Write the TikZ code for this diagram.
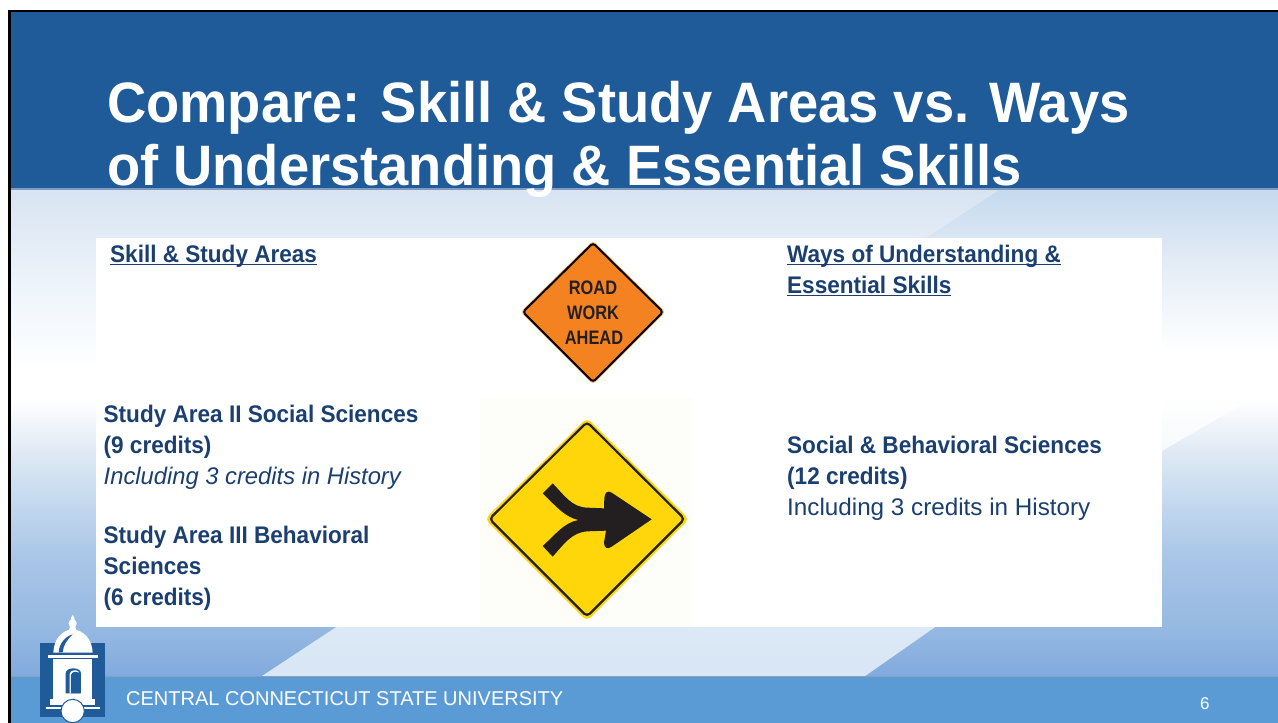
\documentclass[tikz,border=0pt]{standalone}
\usepackage{fontspec}
\setmainfont{Liberation Sans}
\newcommand\myul[1]{\setbox0\hbox{#1}\rlap{\rule[-3.2pt]{\wd0}{1.6pt}}\box0 }
\definecolor{hdr}{HTML}{1F5A99}
\definecolor{hdrline}{HTML}{7F9CC0}
\definecolor{ftr}{HTML}{5B9BD5}
\definecolor{ftrline}{HTML}{8AA0B8}
\definecolor{ink}{HTML}{1A3F70}
\definecolor{logoblue}{HTML}{1F5A99}
\definecolor{orangesign}{HTML}{F58220}
\definecolor{yellowsign}{HTML}{FFD60A}
\definecolor{offw}{HTML}{FDFDFA}
\definecolor{signink}{HTML}{231F20}
\definecolor{aA}{HTML}{82AADD}\definecolor{aB}{HTML}{95B9E2}\definecolor{aC}{HTML}{A8C5E7}
\definecolor{aD}{HTML}{C5D9EE}\definecolor{aE}{HTML}{E0EAF5}\definecolor{aF}{HTML}{F0F6FC}
\definecolor{aG}{HTML}{E3ECF6}\definecolor{aH}{HTML}{D8E4F2}
\pgfdeclareverticalshading{bgleft}{100bp}{color(0bp)=(aA); color(25bp)=(aA); color(30bp)=(aB); color(36.9bp)=(aC); color(43.1bp)=(aD); color(48.25bp)=(aE); color(53.5bp)=(white); color(56.5bp)=(white); color(63.7bp)=(aF); color(70bp)=(aG); color(75bp)=(aH); color(100bp)=(aH)}
\tikzset{
  txt/.style={anchor=base west,inner sep=0pt,text=ink,font=\fontsize{24}{31}\selectfont},
  txtb/.style={txt,xscale=.94,font=\fontsize{24}{31}\selectfont\bfseries},
  ttl/.style={anchor=base west,inner sep=0pt,text=white,xscale=.953,font=\fontsize{57}{63}\selectfont\bfseries},
  signtxt/.style={inner sep=0pt,text=signink,xscale=.84,font=\fontsize{19.5}{20}\selectfont\bfseries},
  logow/.style={fill=white,draw=none},
  logob/.style={fill=logoblue,draw=none},
  declare function={
    bax(\y)=999-(\y-190)/486*737;
    bbx(\y)=(\y<383)?1278:((\y<451)?1278-(\y-383)/68*116:((\y<627)?1162-(\y-451)/176*227:935-(\y-627)/49*70));
    br(\y)=(\y<250)?198+(\y-190)/60*25:((\y<300)?223+(\y-250)/50*17:((\y<350)?240+(\y-300)/50*15:((\y<400)?255:((\y<627)?255-(\y-400)/227*34:221-(\y-627)/49*5))));
    bg(\y)=(\y<250)?219+(\y-190)/60*14:((\y<300)?233+(\y-250)/50*12:((\y<350)?245+(\y-300)/50*10:((\y<400)?255:((\y<627)?255-(\y-400)/227*22:233-(\y-627)/49*3))));
    bb(\y)=(\y<250)?240+(\y-190)/60*5:((\y<300)?245+(\y-250)/50*6:((\y<350)?251+(\y-300)/50*4:((\y<400)?255:((\y<627)?255-(\y-400)/227*10:245))));
  }
}
\begin{document}
\begin{tikzpicture}[x=1pt,y=-1pt]
\useasboundingbox (0,0) rectangle (1278,723);
\fill[white] (0,0) rectangle (1278,723);
% background: base gradient, lighter diagonal band on top of it, row by row
\fill[shading=bgleft] (10,190) rectangle (1278,676);
\foreach \y in {190,...,675}{
  \pgfmathtruncatemacro\cr{br(\y)}
  \pgfmathtruncatemacro\cg{bg(\y)}
  \pgfmathtruncatemacro\cb{bb(\y)}
  \definecolor{rowc}{RGB}{\cr,\cg,\cb}
  \pgfmathsetmacro\yn{\y+1.4}
  \fill[rowc] ({bax(\y)},\y) -- ({bbx(\y)},\y) -- ({bbx(\yn)},\yn) -- ({bax(\yn)},\yn) -- cycle;
}
% header and footer
\fill[hdr] (10,11) rectangle (1278,188);
\fill[hdrline] (10,188) rectangle (1278,190);
\fill[ftr] (10,677) rectangle (1278,723);
\fill[ftrline] (10,676) rectangle (1278,677);
\fill[black] (8,9.5) rectangle (1278,11.5);
\fill[black] (8,9.5) rectangle (10.5,723);
% white boxes
\fill[white] (96,238) rectangle (1162,388);
\fill[white] (96,398) rectangle (1162,627);
\fill[offw] (480,398) rectangle (694,627);
% title
\node[ttl] (t1) at (107,122) {Compare: Skill \& Study Areas vs. Ways};
\node[ttl] (t2) at (107,185) {of Understanding \& Essential Skills};
% left column
\node[txtb] (l0) at (110,262) {\myul{Skill \& Study Areas}};
\node[txtb] (l1) at (103.5,422) {Study Area II Social Sciences};
\node[txtb] (l2) at (103.5,453) {(9 credits)};
\node[txt,xscale=.99,font=\fontsize{24}{31}\selectfont\itshape] (l3) at (103.5,484) {Including 3 credits in History};
\node[txtb] (l4) at (103.5,543) {Study Area III Behavioral};
\node[txtb] (l5) at (103.5,574) {Sciences};
\node[txtb] (l6) at (103.5,605) {(6 credits)};
% right column
\node[txtb] (r0) at (787,262) {\myul{Ways of Understanding \&}};
\node[txtb] (r1) at (787,293) {\myul{Essential Skills}};
\node[txtb] (r2) at (787,453) {Social \& Behavioral Sciences};
\node[txtb] (r3) at (787,484) {(12 credits)};
\node[txt,xscale=1.01] (r4) at (787,515) {Including 3 credits in History};
% road work sign
\draw[orangesign!70!white,line width=1.2pt,rounded corners=3pt] (593,241.5) -- (664.5,312) -- (593,383.5) -- (521.5,312) -- cycle;
\draw[black,fill=orangesign,line width=2pt,rounded corners=3pt] (593,243) -- (663,312) -- (593,382) -- (523,312) -- cycle;
\node[signtxt] (s1) at (593,288) {ROAD};
\node[signtxt] (s2) at (593,312.5) {WORK};
\node[signtxt] (s3) at (594,338) {AHEAD};
% merge sign
\fill[yellowsign,rounded corners=5pt] (587,418) -- (689,519) -- (587,621) -- (485,519) -- cycle;
\draw[signink,line width=2.2pt,rounded corners=4pt] (587,422) -- (684.5,519) -- (587,616.5) -- (489.5,519) -- cycle;
\begin{scope}[shift={(470,400)},scale=1/3]
\fill[signink] (218,280) -- (248,250)
  .. controls (282,285) and (305,322) .. (352,323)
  -- (402,325) -- (403,295)
  .. controls (404,278) and (412,270) .. (425,278)
  -- (545,358) -- (425,440)
  .. controls (412,449) and (402,444) .. (402,428)
  -- (408,392) -- (352,394)
  .. controls (305,397) and (282,432) .. (248,470)
  -- (218,438)
  .. controls (258,402) and (282,368) .. (325,360)
  .. controls (282,350) and (258,318) .. (218,280) -- cycle;
\end{scope}
% logo
\begin{scope}[shift={(0,600)},scale=1/3]
\fill[logob] (120,128) rectangle (315,352);
% spire
\fill[logow] (218,45) .. controls (222,50) and (224,55) .. (224,60) .. controls (232,65) and (232,76) .. (226,82)
  -- (230,92) -- (206,92) -- (210,82) .. controls (204,76) and (204,65) .. (212,60) .. controls (212,55) and (214,50) .. (218,45) -- cycle;
% dome
\fill[logow] (218,88) .. controls (252,90) and (277,120) .. (278,158) -- (160,158)
  .. controls (161,120) and (184,90) .. (218,88) -- cycle;
\fill[logob] (176,157) .. controls (178,130) and (195,110) .. (218,103) .. controls (202,118) and (190,135) .. (188,157) -- cycle;
\fill[logow] (143,164) rectangle (295,175);
\fill[logow] (160,178) rectangle (275,300);
\fill[logow] (150,298) rectangle (285,315);
\fill[logow] (138,320) rectangle (300,327);
\fill[logob] (197,280) -- (197,220) .. controls (197,200) and (243,200) .. (243,220) -- (243,280) -- cycle;
\fill[logow] (209,280) -- (209,222) .. controls (209,210) and (230,208) .. (236,215) -- (240,280) -- cycle;
\fill[logob] (213,280) -- (213,225) .. controls (215,212) and (238,212) .. (240,225) -- (240,280) -- cycle;
\draw[logoblue,fill=white,line width=1pt] (218,333) circle (35);
\end{scope}
% footer text
\node[anchor=base west,inner sep=0pt,text=white,font=\fontsize{20}{24}\selectfont] (f1) at (126,705) {CENTRAL CONNECTICUT STATE UNIVERSITY};
\node[anchor=base west,inner sep=0pt,text=white,font=\fontsize{17}{20}\selectfont] (f2) at (1200,709) {6};
\end{tikzpicture}
\end{document}
